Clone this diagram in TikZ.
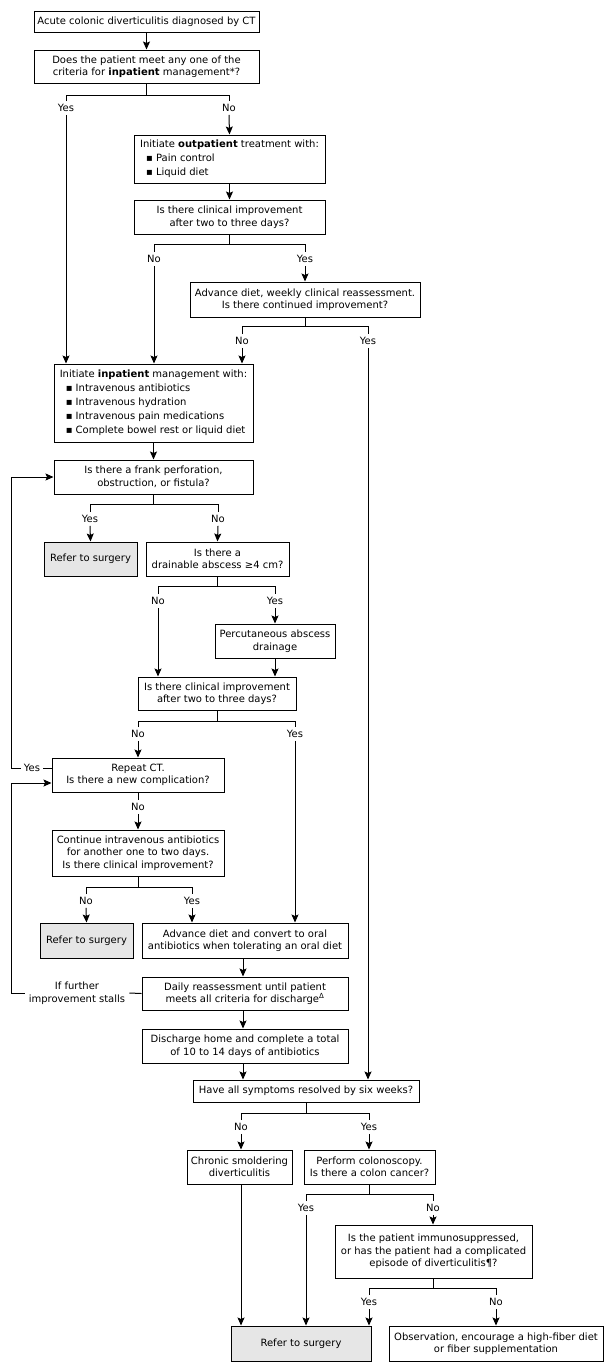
\documentclass[tikz,border=0pt]{standalone}
\usepackage{fontspec}
\setmainfont{DejaVu Sans}
\usetikzlibrary{arrows.meta}
\definecolor{boxgray}{RGB}{230,230,230}
\begin{document}
\begin{tikzpicture}[x=1pt,y=-1pt,
  box/.style={draw, line width=1pt, inner sep=0pt, align=center, font=\fontsize{10}{12.5}\selectfont},
  listbox/.style={box, align=left, font=\fontsize{10}{14}\selectfont},
  graybox/.style={box, fill=boxgray},
  lab/.style={inner xsep=1pt, inner ysep=3pt, text height=7.5pt, text depth=0pt, font=\fontsize{10}{12.5}\selectfont},
  ln/.style={line width=1pt},
  arr/.style={line width=1pt, -{Stealth[length=8pt,width=7pt,inset=1.5pt]}}
]
\useasboundingbox (0,0) rectangle (613,1371);

% boxes
\node[box, minimum width=225, minimum height=21] (b1) at (146.5,21.5) {Acute colonic diverticulitis diagnosed by CT};
\node[box, minimum width=225, minimum height=33] (b2) at (146.5,66.5) {Does the patient meet any one of the\\criteria for \textbf{inpatient} management*?};
\node[listbox, minimum width=191, minimum height=48] (out) at (229.5,159) {Initiate \textbf{outpatient} treatment with:\\\hspace*{6pt}▪ Pain control\\\hspace*{6pt}▪ Liquid diet};
\node[box, minimum width=191, minimum height=34] (imp1) at (229.5,217) {Is there clinical improvement\\after two to three days?};
\node[box, minimum width=230, minimum height=35] (adv1) at (305,299.5) {Advance diet, weekly clinical reassessment.\\Is there continued improvement?};
\node[listbox, minimum width=199, minimum height=78] (inp) at (153.5,403) {Initiate \textbf{inpatient} management with:\\\hspace*{6pt}▪ Intravenous antibiotics\\\hspace*{6pt}▪ Intravenous hydration\\\hspace*{6pt}▪ Intravenous pain medications\\\hspace*{6pt}▪ Complete bowel rest or liquid diet};
\node[box, minimum width=199, minimum height=34] (perf) at (153.5,477) {Is there a frank perforation,\\obstruction, or fistula?};
\node[graybox, minimum width=93, minimum height=34] (surg1) at (90.5,559) {Refer to surgery};
\node[box, minimum width=143, minimum height=34] (abs) at (217.5,559) {Is there a\\drainable abscess ≥4 cm?};
\node[box, minimum width=120, minimum height=34] (perc) at (275,641) {Percutaneous abscess\\drainage};
\node[box, minimum width=158, minimum height=33] (imp2) at (217,693.5) {Is there clinical improvement\\after two to three days?};
\node[box, minimum width=172, minimum height=34] (ct) at (138,775) {Repeat CT.\\Is there a new complication?};
\node[box, minimum width=172, minimum height=46] (cont) at (138,853) {Continue intravenous antibiotics\\for another one to two days.\\Is there clinical improvement?};
\node[graybox, minimum width=93, minimum height=35] (surg2) at (86.5,940.5) {Refer to surgery};
\node[box, minimum width=206, minimum height=35] (adv2) at (245,940.5) {Advance diet and convert to oral\\antibiotics when tolerating an oral diet};
\node[box, minimum width=206, minimum height=33] (daily) at (245,993.5) {Daily reassessment until patient\\meets all criteria for discharge\textsuperscript{Δ}};
\node[box, minimum width=206, minimum height=34] (dis) at (245,1046) {Discharge home and complete a total\\of 10 to 14 days of antibiotics};
\node[box, minimum width=226, minimum height=22] (six) at (306,1091) {Have all symptoms resolved by six weeks?};
\node[box, minimum width=105, minimum height=34] (chr) at (239.5,1167) {Chronic smoldering\\diverticulitis};
\node[box, minimum width=131, minimum height=34] (col) at (369.5,1167) {Perform colonoscopy.\\Is there a colon cancer?};
\node[box, minimum width=197, minimum height=53] (immu) at (433.5,1251.5) {Is the patient immunosuppressed,\\or has the patient had a complicated\\episode of diverticulitis¶?};
\node[graybox, minimum width=140, minimum height=35] (surg3) at (301,1343.5) {Refer to surgery};
\node[box, minimum width=214, minimum height=35] (obs) at (496,1343.5) {Observation, encourage a high-fiber diet\\or fiber supplementation};

% labels
\node[lab] (y1) at (66,108) {Yes};
\node[lab] (n1) at (229,108) {No};
\node[lab] (n2) at (154,259) {No};
\node[lab] (y2) at (305,259) {Yes};
\node[lab] (n3) at (242,341) {No};
\node[lab] (y3) at (368,341) {Yes};
\node[lab] (y4) at (90,519) {Yes};
\node[lab] (n4) at (218,519) {No};
\node[lab] (n5) at (158,601) {No};
\node[lab] (y5) at (275,601) {Yes};
\node[lab] (n6) at (138,734) {No};
\node[lab] (y6) at (295,734) {Yes};
\node[lab, inner xsep=3pt] (yct) at (32,768) {Yes};
\node[lab] (nct) at (138,807) {No};
\node[lab] (n7) at (86,901) {No};
\node[lab] (y7) at (192,901) {Yes};
\node[align=center, inner xsep=4pt, font=\fontsize{10}{12.5}\selectfont] (stall) at (77,993) {If further\\improvement stalls};
\node[lab] (n8) at (241,1127) {No};
\node[lab] (y8) at (369,1127) {Yes};
\node[lab] (y9) at (306,1208) {Yes};
\node[lab] (n9) at (433,1208) {No};
\node[lab] (y10) at (369,1302) {Yes};
\node[lab] (n10) at (496,1302) {No};

\coordinate (lx) at (11,0);

% connectors
\draw[arr] (b1) -- (b2);
\draw[ln] (b2.south) -- ++(0,12) coordinate (j1);
\draw[ln] (y1.north) |- (j1) -| (n1.north);
\draw[arr] (y1.south) -- (y1.south |- inp.north);
\draw[arr] (n1.south) -- (out.north);
\draw[arr] (out) -- (imp1);

\draw[ln] (imp1.south) -- ++(0,10) coordinate (j2);
\draw[ln] (n2.north) |- (j2) -| (y2.north);
\draw[arr] (n2.south) -- (n2.south |- inp.north);
\draw[arr] (y2.south) -- (adv1.north);

\draw[ln] (adv1.south) -- ++(0,9) coordinate (j3);
\draw[ln] (n3.north) |- (j3) -| (y3.north);
\draw[arr] (n3.south) -- (n3.south |- inp.north);
\draw[arr] (y3.south) -- (y3.south |- six.north);

\draw[arr] (inp) -- (perf);
\draw[ln] (perf.south) -- ++(0,10) coordinate (j4);
\draw[ln] (y4.north) |- (j4) -| (n4.north);
\draw[arr] (y4.south) -- (surg1.north);
\draw[arr] (n4.south) -- (abs.north);

\draw[ln] (abs.south) -- ++(0,10) coordinate (j5);
\draw[ln] (n5.north) |- (j5) -| (y5.north);
\draw[arr] (n5.south) -- (n5.south |- imp2.north);
\draw[arr] (y5.south) -- (perc.north);
\draw[arr] (perc.south) -- (perc.south |- imp2.north);

\draw[ln] (imp2.south) -- ++(0,11) coordinate (j6);
\draw[ln] (n6.north) |- (j6) -| (y6.north);
\draw[arr] (n6.south) -- (ct.north);
\draw[arr] (y6.south) -- (y6.south |- adv2.north);

\draw[ln] ([yshift=7pt]ct.west) -- (yct.east);
\draw[arr] (yct.west) -- (yct.west -| lx) |- (perf.west);
\draw[ln] (ct.south) -- (nct.north);
\draw[arr] (nct.south) -- (cont.north);

\draw[ln] (cont.south) -- ++(0,11) coordinate (j7);
\draw[ln] (n7.north) |- (j7) -| (y7.north);
\draw[arr] (n7.south) -- (surg2.north);
\draw[arr] (y7.south) -- (y7.south |- adv2.north);

\draw[arr] (adv2.south -| 243,0) -- (daily.north -| 243,0);
\draw[ln] (daily.west) -- (stall.east);
\draw[arr] (stall.west) -- (stall.west -| lx) |- ([yshift=-8pt]ct.west);
\draw[arr] (daily.south -| 243,0) -- (dis.north -| 243,0);
\draw[arr] (dis.south -| 243,0) -- (six.north -| 243,0);

\draw[ln] (six.south) -- ++(0,11) coordinate (j8);
\draw[ln] (n8.north) |- (j8) -| (y8.north);
\draw[arr] (n8.south) -- (n8.south |- chr.north);
\draw[arr] (y8.south) -- (y8.south |- col.north);

\draw[ln] (col.south) -- ++(0,10) coordinate (j9);
\draw[ln] (y9.north) |- (j9) -| (n9.north);
\draw[arr] (y9.south) -- (y9.south |- surg3.north);
\draw[arr] (n9.south) -- (n9.south |- immu.north);
\draw[arr] (chr.south -| n8) -- (surg3.north -| n8);

\draw[ln] (immu.south) -- ++(0,10) coordinate (j10);
\draw[ln] (y10.north) |- (j10) -| (n10.north);
\draw[arr] (y10.south) -- (y10.south |- surg3.north);
\draw[arr] (n10.south) -- (obs.north);
\end{tikzpicture}
\end{document}
